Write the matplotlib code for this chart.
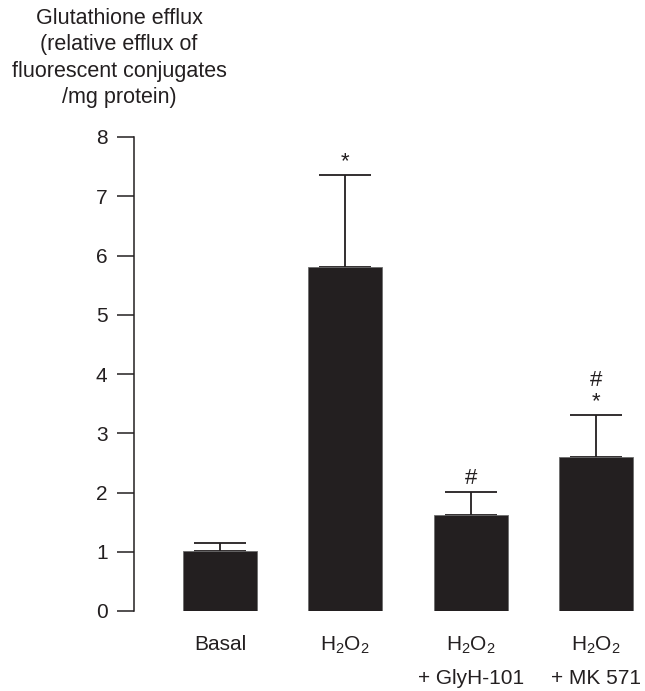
import matplotlib
matplotlib.use("Agg")
import matplotlib.pyplot as plt

plt.rcParams["font.family"] = ["Liberation Sans", "DejaVu Sans"]
plt.rcParams["mathtext.fontset"] = "custom"
plt.rcParams["mathtext.rm"] = "Liberation Sans"
plt.rcParams["mathtext.it"] = "Liberation Sans"

# data
grupos = ["Basal", r"H$_2$O$_2$", "H$_2$O$_2$\n+ GlyH-101", "H$_2$O$_2$\n+ MK 571"]
medias = [1.02, 5.80, 1.62, 2.60]
errores = [0.12, 1.56, 0.39, 0.70]
marcas = ["", "*", "#", "#\n*"]

color_barra = "#231f20"

fig = plt.figure(figsize=(6.45, 6.91), dpi=100)
ax = fig.add_axes([134 / 645, 80 / 691, 511 / 645, 474 / 691])

x = list(range(len(medias)))
ax.bar(x, medias, width=0.59, color=color_barra, edgecolor="#6d6d6d", linewidth=0.6, zorder=2)
ax.errorbar(x, medias, yerr=[[0] * len(errores), errores], fmt="none",
            ecolor=color_barra, elinewidth=1.3, capsize=18.7, capthick=1.3, zorder=1)

for xi, m, e, txt in zip(x, medias, errores, marcas):
    if txt:
        ax.text(xi, m + e + 0.05, txt, ha="center", va="bottom", fontsize=16,
                color=color_barra, linespacing=1.05)

ax.set_xlim(-0.686, 3.39)
ax.set_ylim(0, 8)
ax.set_yticks(range(0, 9))
ax.tick_params(axis="y", direction="out", length=12, width=1.1, labelsize=15,
               pad=7, colors="#231f20")
ax.set_xticks([])
for s in ["top", "right", "bottom"]:
    ax.spines[s].set_visible(False)
ax.spines["left"].set_linewidth(1.1)
ax.spines["left"].set_color("#231f20")

# etiquetas de grupos
for xi, g in zip(x, grupos):
    ax.annotate(g, xy=(xi, 0), xycoords=("data", "axes fraction"),
                xytext=(0, -17), textcoords="offset points", ha="center", va="top",
                fontsize=15, color="#231f20", linespacing=1.85)

fig.text(119 / 645, 1 - 8 / 691,
         "Glutathione efflux\n(relative efflux of\nfluorescent conjugates\n/mg protein)",
         ha="center", va="top", fontsize=15.5, color="#231f20", linespacing=1.33)

fig.savefig("out.png", dpi=100)
